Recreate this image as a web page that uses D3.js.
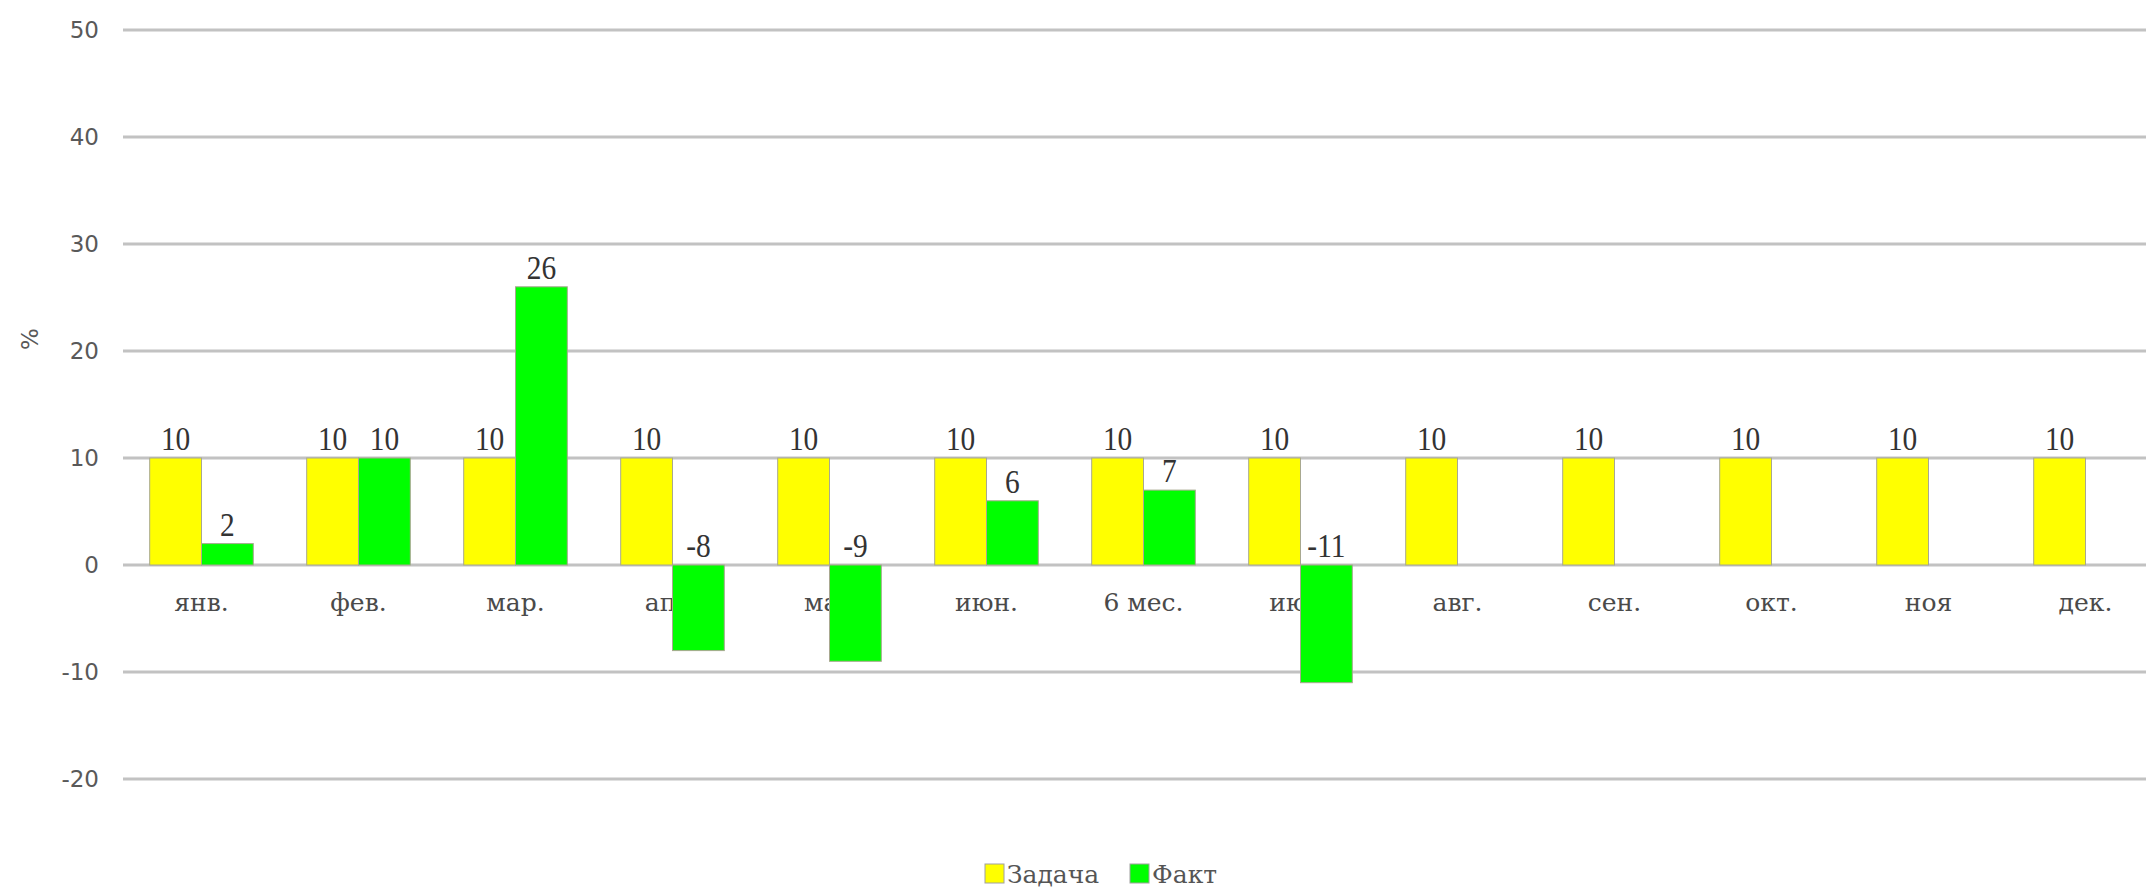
<!DOCTYPE html>
<html>
<head>
<meta charset="utf-8">
<script src="https://cdn.jsdelivr.net/npm/d3@7/dist/d3.min.js"></script>
<style>
  html, body { margin: 0; padding: 0; background: #fff; overflow: hidden; }
  svg { display: block; }
</style>
</head>
<body>
<svg id="chart" width="2146" height="890"></svg>
<script>
const categories = ["янв.", "фев.", "мар.", "апр.", "май", "июн.", "6 мес.", "июл.", "авг.", "сен.", "окт.", "ноя", "дек."];
const seriesNames = ["Задача", "Факт"];
const zadacha = [10, 10, 10, 10, 10, 10, 10, 10, 10, 10, 10, 10, 10];
const fakt = [2, 10, 26, -8, -9, 6, 7, -11, null, null, null, null, null];
const yTicks = [-20, -10, 0, 10, 20, 30, 40, 50];
const colors = ["#FFFF00", "#00FF00"];

const svg = d3.select("#chart");
const W = 2146, H = 890;

const x = d3.scaleBand().domain(categories).range([123, 2164]).paddingInner(0.34).paddingOuter(0.17);
const xs = d3.scaleBand().domain(seriesNames).range([0, x.bandwidth()]).padding(0);
const y = d3.scaleLinear().domain([-20, 50]).range([779, 30]);

// gridlines
svg.append("g").selectAll("line").data(yTicks).join("line")
  .attr("x1", 123).attr("x2", W + 20)
  .attr("y1", d => y(d)).attr("y2", d => y(d))
  .attr("stroke", "#c2c2c2").attr("stroke-width", 3);

// y tick labels
svg.append("g").selectAll("text").data(yTicks).join("text")
  .attr("x", 99).attr("y", d => y(d)).attr("dy", "0.36em")
  .attr("text-anchor", "end")
  .attr("font-family", "DejaVu Sans").attr("font-size", 23)
  .attr("fill", "#595959")
  .text(d => d);

// y axis title
svg.append("text")
  .attr("transform", "translate(38,339) rotate(-90)")
  .attr("text-anchor", "middle")
  .attr("font-family", "DejaVu Sans").attr("font-size", 23)
  .attr("fill", "#595959")
  .text("%");

// x category labels (drawn before bars so that negative bars cover them)
svg.append("g").selectAll("text").data(categories).join("text")
  .attr("x", d => x(d) + x.bandwidth() / 2)
  .attr("y", 611)
  .attr("text-anchor", "middle")
  .attr("font-family", "DejaVu Serif").attr("font-size", 25)
  .attr("fill", "#4a4a4a")
  .text(d => d);

// bars
const rows = categories.map((c, i) => ({ cat: c, vals: [zadacha[i], fakt[i]] }));
const groups = svg.append("g").selectAll("g").data(rows).join("g")
  .attr("transform", d => `translate(${x(d.cat)},0)`);

groups.selectAll("rect")
  .data(d => d.vals.map((v, k) => ({ v, k })).filter(e => e.v !== null))
  .join("rect")
  .attr("x", e => xs(seriesNames[e.k]))
  .attr("width", xs.bandwidth())
  .attr("y", e => y(Math.max(0, e.v)))
  .attr("height", e => Math.abs(y(e.v) - y(0)))
  .attr("fill", e => colors[e.k])
  .attr("stroke", "#a8a890").attr("stroke-width", 1);

// value labels (slightly tall, narrow serif)
groups.selectAll("text")
  .data(d => d.vals.map((v, k) => ({ v, k })).filter(e => e.v !== null))
  .join("text")
  .attr("transform", e => `translate(${xs(seriesNames[e.k]) + xs.bandwidth() / 2},${(e.v >= 0 ? y(e.v) : y(0)) - 8}) scale(0.92,1.08)`)
  .attr("text-anchor", "middle")
  .attr("font-family", "Liberation Serif").attr("font-size", 32)
  .attr("fill", "#333")
  .text(e => e.v);

// legend
const legend = svg.append("g");
const legendItems = [
  { name: seriesNames[0], color: colors[0], x: 985 },
  { name: seriesNames[1], color: colors[1], x: 1130 }
];
legendItems.forEach(it => {
  legend.append("rect")
    .attr("x", it.x).attr("y", 864).attr("width", 19).attr("height", 19)
    .attr("fill", it.color).attr("stroke", "#a0a0a0").attr("stroke-width", 1);
  legend.append("text")
    .attr("x", it.x + 22).attr("y", 883)
    .attr("font-family", "DejaVu Serif").attr("font-size", 25)
    .attr("fill", "#555")
    .text(it.name);
});
</script>
</body>
</html>
